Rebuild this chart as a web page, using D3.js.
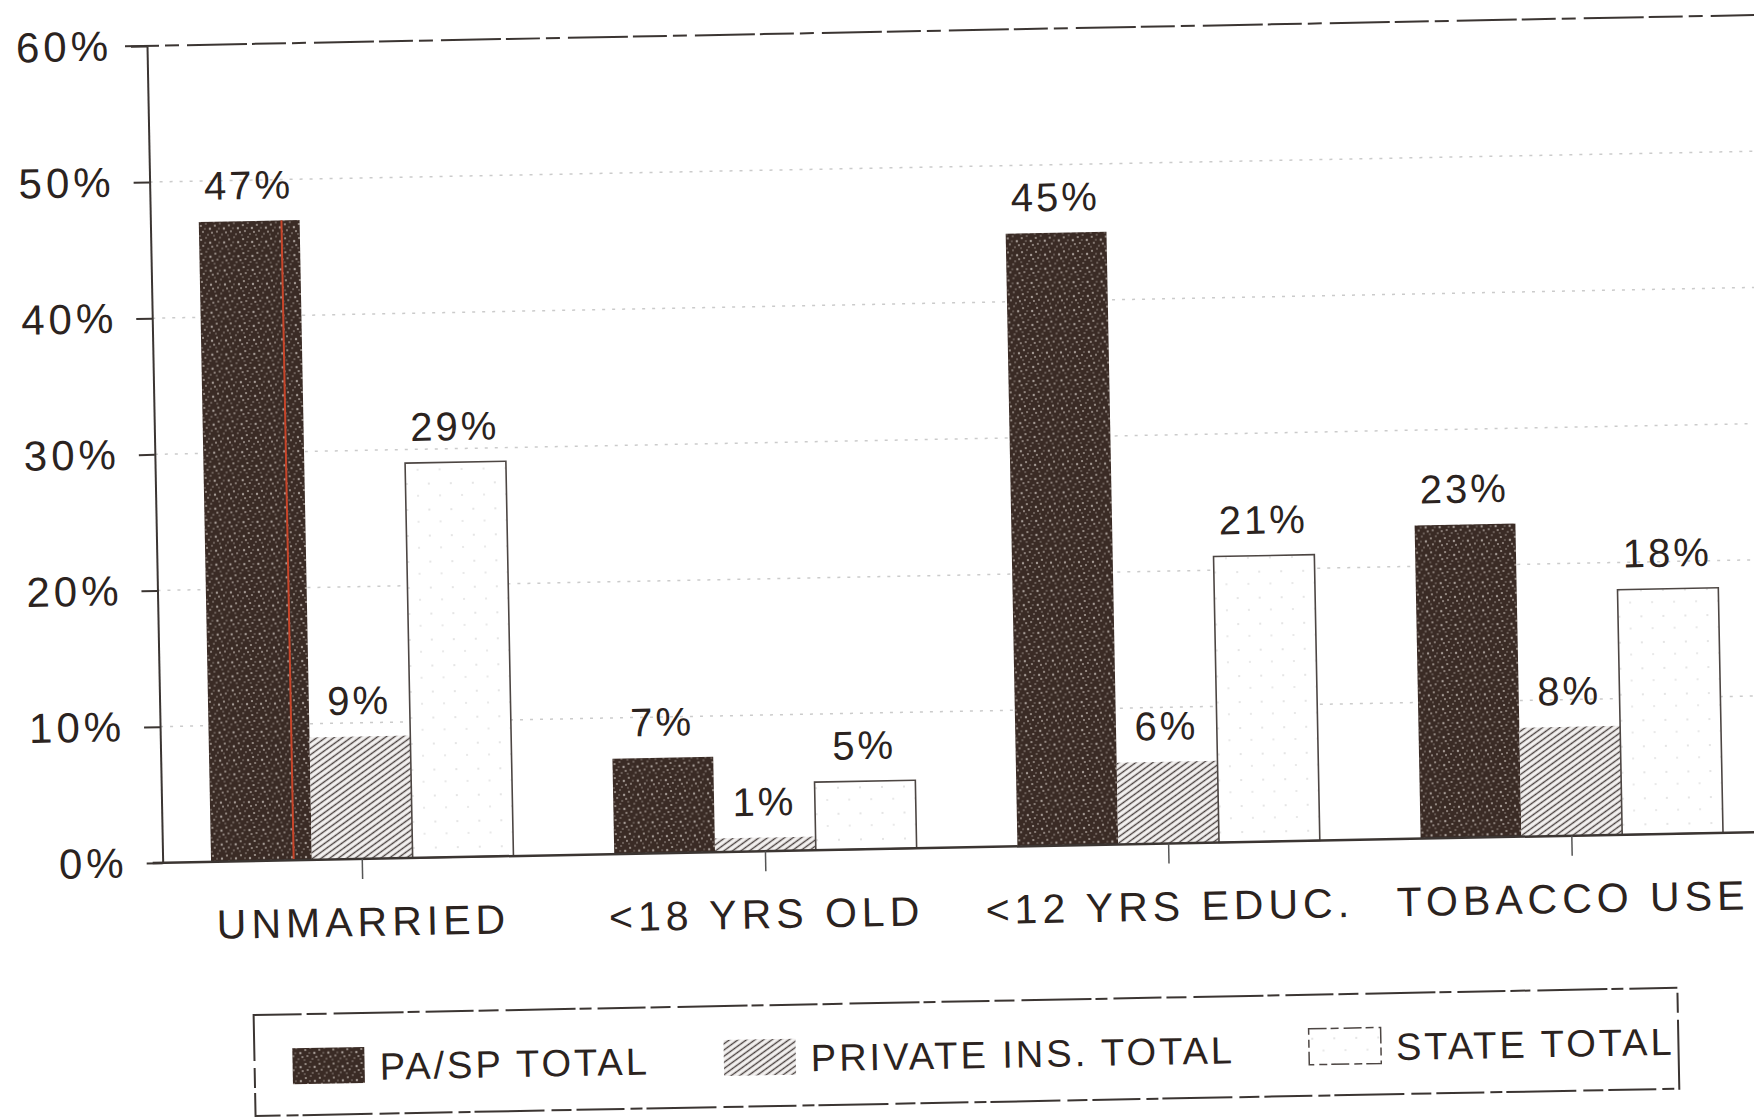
<!doctype html>
<html>
<head>
	<meta charset="utf-8">
	<title>Risk factors by payer (grouped bars)</title>
	<script src="https://d3js.org/d3.v7.min.js"></script>
	<style>
	body { margin:0; background:#fff; }
	text { font-family:"Liberation Sans", Arial, sans-serif; fill:#2b2320; }
	</style>
</head>

<body>
<svg id="chart" width="1754" height="1120"></svg>

<script>

// chart values
var categories = ["UNMARRIED", "<18 YRS OLD", "<12 YRS EDUC.", "TOBACCO USE"];
var seriesNames = ["PA/SP TOTAL", "PRIVATE INS. TOTAL", "STATE TOTAL"];
var paspValues = [47, 7, 45, 23];
var privateValues = [9, 1, 6, 8];
var stateValues = [29, 5, 21, 18];
var yTicks = [0, 10, 20, 30, 40, 50, 60];

var seriesValues = [paspValues, privateValues, stateValues];
var rows = categories.map(function(c, i) {
	return seriesNames.map(function(s, j) { return {cat: c, series: s, idx: j, value: seriesValues[j][i]}; });
});

var svg = d3.select('#chart');
var defs = svg.append('defs');

// dark speckled fill
var speck = defs.append('pattern').attr('id', 'speck').attr('patternUnits', 'userSpaceOnUse')
	.attr('width', 14).attr('height', 14);
speck.append('rect').attr('width', 14).attr('height', 14).attr('fill', '#3a2b25');
[[2,3,1.1],[7,1,0.8],[11,6,1.2],[4,9,0.9],[9,12,0.8],[13,10,1],[1,13,0.7],[6,6,0.7]].forEach(function(p) {
	speck.append('circle').attr('cx', p[0]).attr('cy', p[1]).attr('r', p[2]).attr('fill', '#d8cfc8').attr('opacity', 0.7);
});

// diagonal hatch
var hatch = defs.append('pattern').attr('id', 'hatch').attr('patternUnits', 'userSpaceOnUse')
	.attr('width', 5).attr('height', 5).attr('patternTransform', 'rotate(-35)');
hatch.append('rect').attr('width', 5).attr('height', 5).attr('fill', '#f4f2f1');
hatch.append('line').attr('x1', 0).attr('y1', 2.5).attr('x2', 5).attr('y2', 2.5)
	.attr('stroke', '#4a4240').attr('stroke-width', 1.4);

// faint specks in the white bars
var pale = defs.append('pattern').attr('id', 'pale').attr('patternUnits', 'userSpaceOnUse')
	.attr('width', 22).attr('height', 26);
pale.append('rect').attr('width', 22).attr('height', 26).attr('fill', '#fff');
pale.append('circle').attr('cx', 5).attr('cy', 7).attr('r', 1).attr('fill', '#ddd');
pale.append('circle').attr('cx', 16).attr('cy', 19).attr('r', 1).attr('fill', '#e2e2e2');

var fills = ['url(#speck)', 'url(#hatch)', 'url(#pale)'];

// the scan sits a little crooked
var g = svg.append('g').attr('transform', 'rotate(-1.1,877,560)');

var axisX = 157;
var x0 = d3.scaleBand().domain(categories).range([axisX, 1766]).paddingInner(0.25).paddingOuter(0.12);
var x1 = d3.scaleBand().domain(seriesNames).range([0, x0.bandwidth()]);
var y = d3.scaleLinear().domain([0, 60]).range([849, 32]);

// dotted gridlines
g.selectAll('.grid').data(yTicks.filter(function(d) { return d > 0 && d < 60; }))
	.enter().append('line')
	.attr('x1', axisX).attr('x2', 1800)
	.attr('y1', function(d) { return y(d); }).attr('y2', function(d) { return y(d); })
	.attr('stroke', '#aaa').attr('stroke-width', 1.5).attr('stroke-dasharray', '3 7').attr('opacity', 0.6);

// top frame line
g.append('line').attr('x1', axisX - 22).attr('x2', 1800).attr('y1', y(60)).attr('y2', y(60))
	.attr('stroke', '#3b3532').attr('stroke-width', 2).attr('stroke-dasharray', '34 6 14 8 60 5');

// bars
var groups = g.selectAll('.grp').data(rows).enter().append('g')
	.attr('transform', function(d, i) { return 'translate(' + x0(categories[i]) + ',0)'; });

groups.selectAll('rect').data(function(d) { return d; }).enter().append('rect')
	.attr('x', function(d) { return x1(d.series); })
	.attr('y', function(d) { return y(d.value); })
	.attr('width', x1.bandwidth())
	.attr('height', function(d) { return y(0) - y(d.value); })
	.attr('fill', function(d) { return fills[d.idx]; })
	.attr('stroke', function(d) { return d.idx === 2 ? '#4d4643' : 'none'; })
	.attr('stroke-width', 1.6);

groups.selectAll('.val').data(function(d) { return d; }).enter().append('text')
	.attr('x', function(d) { return x1(d.series) + x1.bandwidth() / 2; })
	.attr('y', function(d) { return y(d.value) - 22; })
	.attr('text-anchor', 'middle')
	.attr('font-size', 40).attr('letter-spacing', 3)
	.text(function(d) { return d.value + '%'; });

// red scanner streak in the first bar
var firstBar = rows[0][0];
g.append('line')
	.attr('x1', x0(firstBar.cat) + x1.bandwidth() * 0.82).attr('x2', x0(firstBar.cat) + x1.bandwidth() * 0.82)
	.attr('y1', y(firstBar.value)).attr('y2', y(0))
	.attr('stroke', '#c8452a').attr('stroke-width', 2);

// y axis
var yAxis = g.append('g').attr('transform', 'translate(' + axisX + ',0)')
	.call(d3.axisLeft(y).tickValues(yTicks).tickSize(16).tickSizeOuter(0).tickPadding(19)
		.tickFormat(function(d) { return d + '%'; }));
yAxis.select('.domain').attr('stroke', '#3b3532').attr('stroke-width', 2);
yAxis.selectAll('.tick line').attr('stroke', '#3b3532').attr('stroke-width', 2);
yAxis.selectAll('.tick text').attr('font-size', 42).attr('letter-spacing', 4)
	.attr('font-family', '"Liberation Sans", Arial, sans-serif').attr('fill', '#2b2320');

// baseline
g.append('line').attr('x1', axisX - 10).attr('x2', 1800).attr('y1', y(0)).attr('y2', y(0))
	.attr('stroke', '#3b3532').attr('stroke-width', 2.5);

// category axis
var xAxis = g.append('g').attr('transform', 'translate(0,' + y(0) + ')')
	.call(d3.axisBottom(x0).tickSize(20).tickPadding(28));
xAxis.select('.domain').remove();
xAxis.selectAll('.tick line').attr('stroke', '#555').attr('stroke-width', 1.5);
xAxis.selectAll('.tick text').attr('font-size', 41).attr('letter-spacing', 5)
	.attr('font-family', '"Liberation Sans", Arial, sans-serif').attr('fill', '#2b2320');

// legend
var legend = g.append('g');
legend.append('rect').attr('x', 245).attr('y', 1003).attr('width', 1424).attr('height', 101)
	.attr('fill', 'none').attr('stroke', '#3b3532').attr('stroke-width', 2)
	.attr('stroke-dasharray', '48 5 20 7 70 4 12 6');

var lx = 283;
seriesNames.forEach(function(name, j) {
	legend.append('rect').attr('x', lx).attr('y', 1037).attr('width', 72).attr('height', 36)
		.attr('fill', fills[j])
		.attr('stroke', j === 2 ? '#4d4643' : 'none').attr('stroke-width', 1.5)
		.attr('stroke-dasharray', j === 2 ? '18 4 8 5' : null);
	var t = legend.append('text').attr('x', lx + 87).attr('y', 1070)
		.attr('font-size', 38).attr('letter-spacing', 3).text(name);
	lx = lx + 87 + t.node().getComputedTextLength() + 74;
});

</script>
</body>
</html>
